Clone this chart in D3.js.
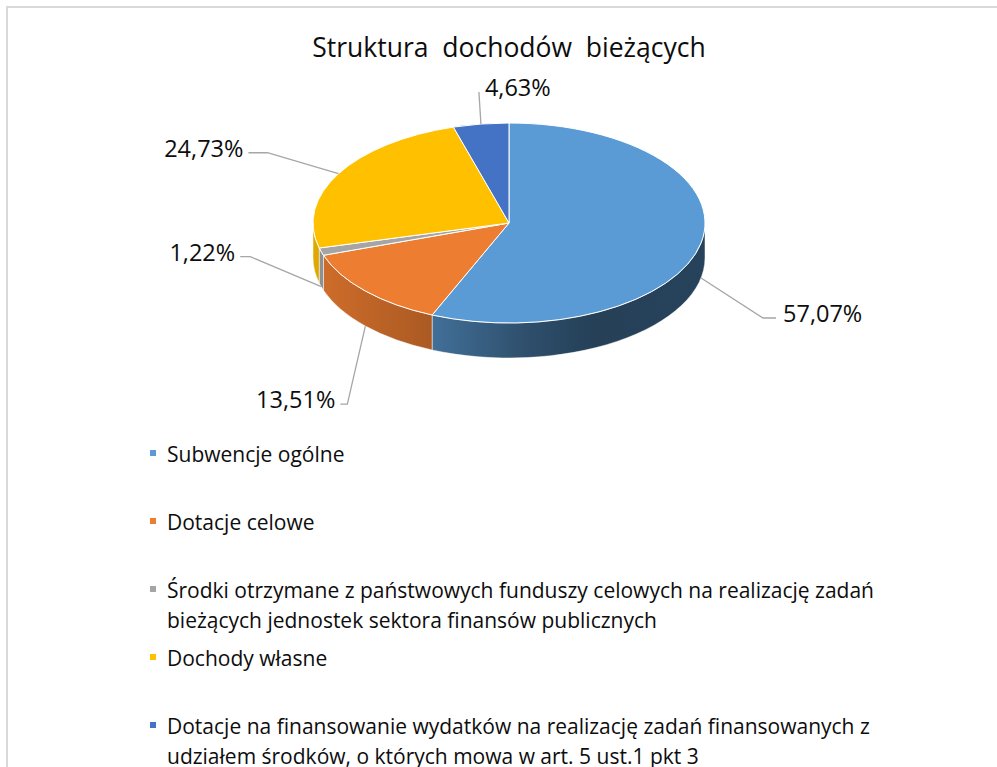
<!DOCTYPE html>
<html>
<head>
<meta charset="utf-8">
<script src="https://cdn.jsdelivr.net/npm/d3@7"></script>
<style>
  body { margin: 0; background: #fff; }
  text { font-family: "Open Sans", "Liberation Sans", sans-serif; fill: #0d0d0d; }
</style>
</head>
<body>
<div id="chart"></div>
<script>
///////////////////////////////////////////////////////////////////////////
///////////////////////////////// Data ////////////////////////////////////
///////////////////////////////////////////////////////////////////////////
var title = "Struktura  dochodów  bieżących"
var categories = [
  "Subwencje ogólne",
  "Dotacje celowe",
  "Środki otrzymane z państwowych funduszy celowych na realizację zadań bieżących jednostek sektora finansów publicznych",
  "Dochody własne",
  "Dotacje na finansowanie wydatków na realizację zadań finansowanych z udziałem środków, o których mowa w art. 5 ust.1 pkt 3"
]
var values = [57.07, 13.51, 1.22, 24.73, 4.63]
var colors = ["#5b9bd5", "#ed7d31", "#a5a5a5", "#ffc000", "#4472c4"]

// label placement: offset of leader end from slice anchor, elbow length
var labelLayout = [
  {dx: 75, dy: 40, elbow: 13, side: "right"},
  {dx: -25, dy: 78, elbow: 7, side: "left"},
  {dx: -81, dy: -30, elbow: 10, side: "left"},
  {dx: -90, dy: -21, elbow: 19, side: "left"},
  {dx: -2, dy: -32, elbow: 0, side: "top"}
]

///////////////////////////////////////////////////////////////////////////
//////////////////////////////// Globals //////////////////////////////////
///////////////////////////////////////////////////////////////////////////
var totalWidth = 997
var totalHeight = 767
var cx = 509, cy = 223, rx = 196, ry = 100, depth = 35

var svg = d3.select("#chart").append("svg")
  .attr("width", totalWidth)
  .attr("height", totalHeight)

svg.append("rect")
  .attr("x", 7).attr("y", 7)
  .attr("width", 1000).attr("height", 800)
  .attr("fill", "#fff")
  .attr("stroke", "#d9d9d9")
  .attr("stroke-width", 2)

svg.append("text")
  .attr("x", cx).attr("y", 57)
  .attr("text-anchor", "middle")
  .attr("font-size", "26.5px")
  .style("white-space", "pre")
  .text(title)

var pl = d3.formatLocale({decimal: ",", thousands: " ", grouping: [3], currency: ["", " zł"]})
var fmt = pl.format(".2f")

///////////////////////////////////////////////////////////////////////////
/////////////////////////////// 3D pie ////////////////////////////////////
///////////////////////////////////////////////////////////////////////////
var pie = d3.pie().sort(null).value(d => d)
var arcs = pie(values)

function P(a, dz) {
  return [cx + rx * Math.sin(a), cy - ry * Math.cos(a) + (dz || 0)]
}

function shade(c, f) {
  var r = d3.rgb(c)
  return d3.rgb(r.r * f, r.g * f, r.b * f).formatHex()
}

// side gradients
var defs = svg.append("defs")
var stops = [[0, 0.88], [0.3, 0.72], [0.55, 0.5], [0.72, 0.41], [1, 0.43]]
colors.forEach(function(c, i) {
  var grad = defs.append("linearGradient")
    .attr("id", "side-" + i)
    .attr("gradientUnits", "userSpaceOnUse")
    .attr("x1", cx - rx).attr("x2", cx + rx)
    .attr("y1", 0).attr("y2", 0)
  stops.forEach(function(s) {
    grad.append("stop").attr("offset", s[0]).attr("stop-color", shade(c, s[1]))
  })
})

var g = svg.append("g")

// walls on the front half
arcs.forEach(function(d, i) {
  var b0 = Math.max(d.startAngle, Math.PI / 2)
  var b1 = Math.min(d.endAngle, Math.PI * 1.5)
  if (b1 <= b0) return
  var p0 = P(b0), p1 = P(b1), q0 = P(b0, depth), q1 = P(b1, depth)
  var path = "M" + p0 + "A" + rx + "," + ry + " 0 0 1 " + p1 +
    "L" + q1 + "A" + rx + "," + ry + " 0 0 0 " + q0 + "Z"
  g.append("path")
    .attr("d", path)
    .attr("fill", "url(#side-" + i + ")")
    .attr("stroke", "rgba(255,255,255,0.6)")
    .attr("stroke-width", 0.8)
})

// top faces
arcs.forEach(function(d, i) {
  var p0 = P(d.startAngle), p1 = P(d.endAngle)
  var large = (d.endAngle - d.startAngle) > Math.PI ? 1 : 0
  var path = "M" + [cx, cy] + "L" + p0 + "A" + rx + "," + ry + " 0 " + large + " 1 " + p1 + "Z"
  g.append("path")
    .attr("d", path)
    .attr("fill", colors[i])
    .attr("stroke", "#fff")
    .attr("stroke-width", 1)
    .attr("stroke-linejoin", "round")
})

///////////////////////////////////////////////////////////////////////////
/////////////////////////////// Labels ////////////////////////////////////
///////////////////////////////////////////////////////////////////////////
arcs.forEach(function(d, i) {
  var mid = (d.startAngle + d.endAngle) / 2
  var a = P(mid, Math.cos(mid) < 0 ? depth : 0)
  var L = labelLayout[i]
  var end = [a[0] + L.dx, a[1] + L.dy]
  var pts = [a]
  if (L.side === "right") pts.push([end[0] - L.elbow, end[1]])
  if (L.side === "left") pts.push([end[0] + L.elbow, end[1]])
  pts.push(end)
  g.append("path")
    .attr("d", d3.line()(pts))
    .attr("fill", "none")
    .attr("stroke", "#a6a6a6")
    .attr("stroke-width", 1.3)

  var t = g.append("text")
    .attr("font-size", "23.5px")
    .text(fmt(values[i]) + "%")
  if (L.side === "right") t.attr("x", end[0] + 7).attr("y", end[1] + 4).attr("text-anchor", "start")
  if (L.side === "left") t.attr("x", end[0] - 5).attr("y", end[1] + 4).attr("text-anchor", "end")
  if (L.side === "top") t.attr("x", end[0] + 6).attr("y", end[1] + 4).attr("text-anchor", "start")
})

///////////////////////////////////////////////////////////////////////////
/////////////////////////////// Legend ////////////////////////////////////
///////////////////////////////////////////////////////////////////////////
var legX = 167, legY = 462, legStep = 68, lineH = 30, maxW = 740

var leg = svg.append("g").attr("font-size", "21px")
categories.forEach(function(c, i) {
  var y0 = legY + i * legStep
  leg.append("rect")
    .attr("x", 150).attr("y", y0 - 12)
    .attr("width", 6).attr("height", 6)
    .attr("fill", colors[i])
  var t = leg.append("text").attr("x", legX).attr("y", y0)
  var words = c.split(" "), line = [], lineNo = 0
  var ts = t.append("tspan").attr("x", legX).attr("y", y0)
  words.forEach(function(w) {
    line.push(w)
    ts.text(line.join(" "))
    if (ts.node().getComputedTextLength() > maxW && line.length > 1) {
      line.pop()
      ts.text(line.join(" "))
      line = [w]
      lineNo++
      ts = t.append("tspan").attr("x", legX).attr("y", y0 + lineNo * lineH).text(w)
    }
  })
})
</script>
</body>
</html>
